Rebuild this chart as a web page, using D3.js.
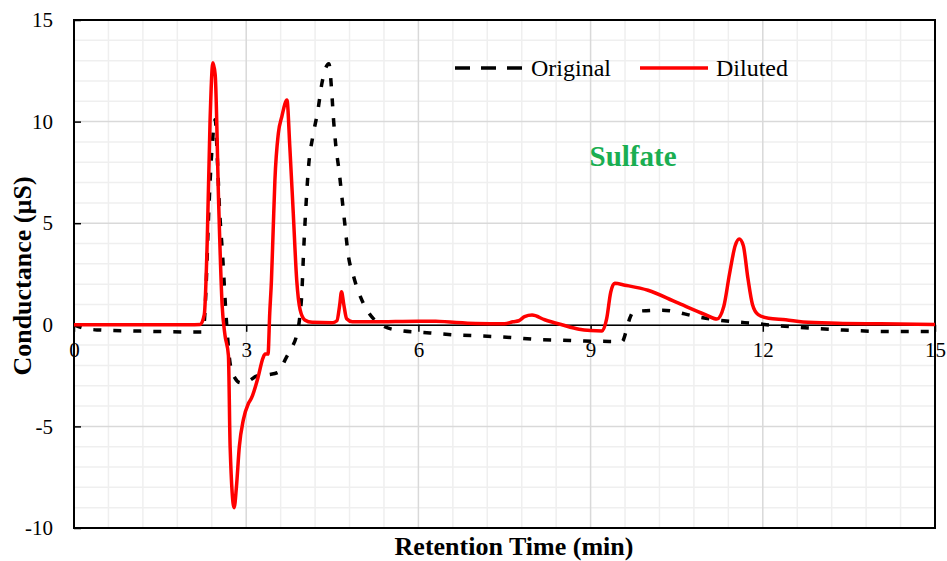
<!DOCTYPE html>
<html>
<head>
<meta charset="utf-8">
<script src="https://cdn.jsdelivr.net/npm/d3@7"></script>
<style>
  body { margin: 0; background: #fff; }
  svg { display: block; font-family: 'Times New Roman', 'Liberation Serif', serif; }
</style>
</head>
<body>
<div class="svgcontainer"></div>
<script>
// chromatogram traces (time in min, conductance in µS)
const originalTime = [0, 0.15, 0.4, 1.0, 2.0, 2.22, 2.26, 2.31, 2.34, 2.4, 2.46, 2.5, 2.53, 2.59, 2.66, 2.72, 2.8, 2.9,
  3.05, 3.2, 3.4, 3.55, 3.7, 3.8, 3.88, 3.93, 3.97, 4.0, 4.04, 4.09, 4.16, 4.25, 4.32, 4.44, 4.49, 4.52, 4.56,
  4.62, 4.67, 4.72, 4.77, 4.88, 5.04, 5.2, 5.35, 5.6, 6.2, 6.65, 7.1, 7.6, 8.05, 8.5, 8.9, 9.55, 9.62, 9.68,
  9.75, 10.25, 10.85, 11.1, 11.5, 11.85, 12.2, 12.6, 13.4, 14.2, 15];
const originalValue = [0, -0.15, -0.25, -0.3, -0.35, -0.35, -0.1, 2.5, 5, 8.5, 10.1, 8, 6, 3.35, 0, -1.9, -2.6, -2.85,
  -2.75, -2.5, -2.45, -2.35, -1.6, -1.1, -0.5, 0.3, 1.6, 3.6, 5.8, 7.9, 9.26, 10.57, 11.9, 12.85, 11.47, 10.16, 8.85,
  7.53, 6.22, 4.91, 3.6, 2.29, 1.06, 0.35, 0, -0.25, -0.4, -0.5, -0.55, -0.62, -0.72, -0.76, -0.8, -0.82, -0.3, 0.3,
  0.65, 0.72, 0.4, 0.28, 0.15, 0.07, -0.03, -0.12, -0.26, -0.33, -0.33];

const dilutedTime = [0, 1.0, 2.0, 2.2, 2.27, 2.32, 2.37, 2.42, 2.46, 2.52, 2.58, 2.63, 2.69, 2.72, 2.79, 2.83, 2.88,
  2.95, 3.04, 3.09, 3.21, 3.29, 3.33, 3.38, 3.41, 3.44, 3.47, 3.5, 3.56, 3.62, 3.71, 3.76, 3.82, 3.88, 3.94, 4.02,
  4.15, 4.5, 4.58, 4.63, 4.66, 4.7, 4.75, 4.85, 5.2, 6.0, 6.3, 7.0, 7.5, 7.65, 7.75, 7.85, 7.98, 8.2, 8.5, 8.8, 9.0,
  9.2, 9.28, 9.35, 9.42, 9.6, 10.0, 10.5, 11.0, 11.2, 11.32, 11.42, 11.52, 11.59, 11.66, 11.74, 11.82, 11.92, 12.1,
  12.4, 12.7, 13.3, 14, 15];
const dilutedValue = [0, 0, 0, 0.02, 0.5, 4, 10, 12.9, 12.3, 6, 1, -0.5, -1.5, -6.0, -9.0, -7.97, -6,
  -4.68, -3.86, -3.62, -2.55, -1.65, -1.44, -1.44, 0.57, 2.2, 4.67, 7.1, 9.42, 10.24, 11.06, 8.76, 5.49, 2.2, 0.73, 0.24,
  0.12, 0.1, 0.2, 1.0, 1.63, 1.0, 0.3, 0.15, 0.15, 0.18, 0.17, 0.07, 0.05, 0.15, 0.2, 0.4, 0.48, 0.25, 0, -0.22, -0.28,
  -0.3, 0.3, 1.6, 2.04, 1.95, 1.7, 1.1, 0.5, 0.28, 0.9, 2.5, 3.9, 4.22, 3.9, 2.3, 1.0, 0.5, 0.32,
  0.25, 0.14, 0.08, 0.05, 0.02];

const xTicks = [0, 3, 6, 9, 12, 15];
const yTicks = [-10, -5, 0, 5, 10, 15];
const seriesNames = ['Original', 'Diluted'];

const serif = "'Times New Roman', 'Liberation Serif', serif";

const svg = d3
  .select('.svgcontainer')
  .append('svg')
  .attr('width', 947)
  .attr('height', 561);

const margin = {top: 20, right: 12, bottom: 33, left: 74};
const width = 947 - margin.left - margin.right;
const height = 561 - margin.top - margin.bottom;

const g = svg
  .append('g')
  .attr('transform', `translate(${margin.left},${margin.top})`);

const x = d3.scaleLinear().domain([0, 15]).range([0, width]);
const y = d3.scaleLinear().domain([-10, 15]).range([height, 0]);

// minor grid
g.append('g')
  .selectAll('line')
  .data(d3.range(0, 25).map(i => i * 0.6).filter(v => v % 3 !== 0))
  .enter()
  .append('line')
  .attr('x1', d => x(d))
  .attr('x2', d => x(d))
  .attr('y1', 0)
  .attr('y2', height)
  .attr('stroke', '#efefef')
  .attr('stroke-width', 1.5);

g.append('g')
  .selectAll('line')
  .data(d3.range(-10, 16).filter(v => v % 5 !== 0))
  .enter()
  .append('line')
  .attr('x1', 0)
  .attr('x2', width)
  .attr('y1', d => y(d))
  .attr('y2', d => y(d))
  .attr('stroke', '#efefef')
  .attr('stroke-width', 1.5);

// major grid
g.append('g')
  .selectAll('line')
  .data(xTicks)
  .enter()
  .append('line')
  .attr('x1', d => x(d))
  .attr('x2', d => x(d))
  .attr('y1', 0)
  .attr('y2', height)
  .attr('stroke', '#d9d9d9')
  .attr('stroke-width', 1.5);

g.append('g')
  .selectAll('line')
  .data(yTicks)
  .enter()
  .append('line')
  .attr('x1', 0)
  .attr('x2', width)
  .attr('y1', d => y(d))
  .attr('y2', d => y(d))
  .attr('stroke', '#d9d9d9')
  .attr('stroke-width', 1.5);

// frame
g.append('rect')
  .attr('x', 0)
  .attr('y', 0)
  .attr('width', width)
  .attr('height', height)
  .attr('fill', 'none')
  .attr('stroke', '#000')
  .attr('stroke-width', 2);

// x axis sits on zero
const xAxis = g
  .append('g')
  .attr('transform', `translate(0,${y(0)})`)
  .call(d3.axisBottom(x).tickValues(xTicks).tickFormat(d => String(d))
    .tickSize(7).tickSizeOuter(0).tickPadding(10));
xAxis.attr('font-family', null);
xAxis.select('.domain').attr('stroke', '#000').attr('stroke-width', 1.5);
xAxis.selectAll('.tick line').attr('stroke', '#000').attr('stroke-width', 1.5);
xAxis.selectAll('.tick text')
  .style('font-family', serif)
  .style('font-size', '21px')
  .attr('fill', '#000');

const yAxis = g
  .append('g')
  .call(d3.axisLeft(y).tickValues(yTicks).tickFormat(d => String(d))
    .tickSize(-7).tickSizeOuter(0).tickPadding(21));
yAxis.attr('font-family', null);
yAxis.select('.domain').remove();
yAxis.selectAll('.tick line').attr('stroke', '#000').attr('stroke-width', 1.5);
yAxis.selectAll('.tick text')
  .style('font-family', serif)
  .style('font-size', '21px')
  .attr('fill', '#000');

const line = d3
  .line()
  .x(d => x(d[0]))
  .y(d => y(d[1]))
  .curve(d3.curveMonotoneX);

const original = originalTime.map((t, i) => [t, originalValue[i]]);
const diluted = dilutedTime.map((t, i) => [t, dilutedValue[i]]);

g.append('path')
  .datum(original)
  .attr('d', line)
  .attr('fill', 'none')
  .attr('stroke', '#000')
  .attr('stroke-width', 3.5)
  .attr('stroke-dasharray', '8,12');

g.append('path')
  .datum(diluted)
  .attr('d', line)
  .attr('fill', 'none')
  .attr('stroke', '#ff0000')
  .attr('stroke-width', 3.5)
  .attr('stroke-linejoin', 'round');

// legend
const legend = svg.append('g').attr('class', 'legend');
const legendX = [455, 640];
legend
  .selectAll('line')
  .data(seriesNames)
  .enter()
  .append('line')
  .attr('x1', (d, i) => legendX[i])
  .attr('x2', (d, i) => legendX[i] + 68)
  .attr('y1', 68)
  .attr('y2', 68)
  .attr('stroke', (d, i) => (i === 0 ? '#000' : '#ff0000'))
  .attr('stroke-width', 3.5)
  .attr('stroke-dasharray', (d, i) => (i === 0 ? '15,11' : null));

legend
  .selectAll('text')
  .data(seriesNames)
  .enter()
  .append('text')
  .attr('x', (d, i) => legendX[i] + 76)
  .attr('y', 76)
  .style('font-family', serif)
  .style('font-size', '24px')
  .text(d => d);

svg.append('text')
  .attr('x', 633)
  .attr('y', 166)
  .attr('text-anchor', 'middle')
  .style('font-family', serif)
  .style('font-size', '29px')
  .style('font-weight', 'bold')
  .attr('fill', '#1aae52')
  .text('Sulfate');

svg.append('text')
  .attr('x', 514)
  .attr('y', 555)
  .attr('text-anchor', 'middle')
  .style('font-family', serif)
  .style('font-size', '26px')
  .style('font-weight', 'bold')
  .text('Retention Time (min)');

svg.append('text')
  .attr('transform', 'translate(31,276) rotate(-90)')
  .attr('text-anchor', 'middle')
  .style('font-family', serif)
  .style('font-size', '26px')
  .style('font-weight', 'bold')
  .text('Conductance (µS)');
</script>
</body>
</html>
